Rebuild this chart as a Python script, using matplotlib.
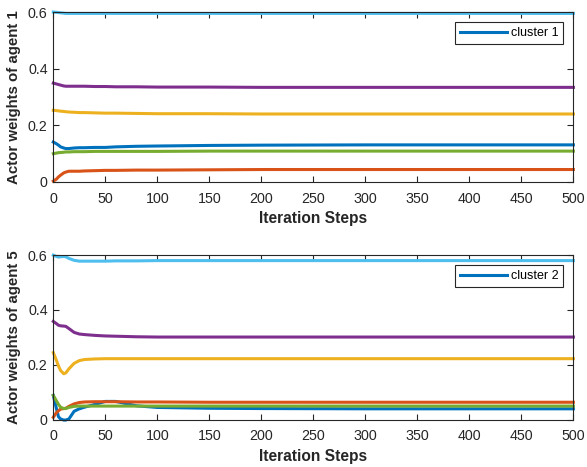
import matplotlib
matplotlib.use("Agg")
import matplotlib.pyplot as plt

# iteration points
steps = [0, 3, 5, 7, 10, 12, 15, 20, 25, 30, 40, 50, 60, 80, 100, 150, 200, 300, 400, 500]

# agent 1 (cluster 1)
a1_blue = [0.141, 0.135, 0.130, 0.124, 0.120, 0.118, 0.118, 0.120, 0.121, 0.121, 0.122, 0.122,
           0.124, 0.126, 0.127, 0.129, 0.130, 0.131, 0.131, 0.131]
a1_orange = [0.003, 0.010, 0.018, 0.024, 0.032, 0.035, 0.038, 0.038, 0.038, 0.039, 0.040, 0.041,
             0.041, 0.042, 0.042, 0.043, 0.044, 0.044, 0.044, 0.044]
a1_yellow = [0.253, 0.252, 0.251, 0.250, 0.249, 0.248, 0.247, 0.246, 0.245, 0.245, 0.244, 0.243,
             0.243, 0.242, 0.241, 0.241, 0.240, 0.240, 0.240, 0.240]
a1_purple = [0.349, 0.346, 0.344, 0.342, 0.339, 0.338, 0.338, 0.338, 0.338, 0.338, 0.337, 0.337,
             0.336, 0.336, 0.335, 0.335, 0.334, 0.334, 0.334, 0.334]
a1_green = [0.100, 0.102, 0.1035, 0.104, 0.105, 0.106, 0.106, 0.107, 0.107, 0.107, 0.108, 0.108,
            0.108, 0.108, 0.108, 0.109, 0.109, 0.109, 0.109, 0.109]
a1_cyan = [0.600, 0.599, 0.598, 0.597, 0.596, 0.595, 0.595, 0.595, 0.595, 0.595, 0.595, 0.595,
           0.595, 0.595, 0.595, 0.595, 0.595, 0.595, 0.595, 0.595]

# agent 5 (cluster 2)
a5_blue = [0.088, 0.040, 0.010, 0.002, -0.002, -0.002, 0.002, 0.030, 0.039, 0.045, 0.055, 0.066,
           0.066, 0.050, 0.044, 0.041, 0.040, 0.039, 0.039, 0.039]
a5_orange = [0.008, 0.025, 0.032, 0.038, 0.040, 0.041, 0.048, 0.057, 0.062, 0.064, 0.065, 0.065,
             0.065, 0.064, 0.064, 0.063, 0.063, 0.063, 0.063, 0.063]
a5_yellow = [0.244, 0.216, 0.195, 0.179, 0.167, 0.170, 0.185, 0.205, 0.215, 0.219, 0.221, 0.222,
             0.222, 0.222, 0.222, 0.222, 0.222, 0.222, 0.222, 0.222]
a5_purple = [0.358, 0.350, 0.344, 0.342, 0.341, 0.340, 0.332, 0.318, 0.312, 0.310, 0.307, 0.305,
             0.304, 0.302, 0.301, 0.301, 0.301, 0.301, 0.301, 0.301]
a5_green = [0.088, 0.068, 0.055, 0.045, 0.040, 0.040, 0.044, 0.048, 0.049, 0.049, 0.049, 0.049,
            0.049, 0.049, 0.049, 0.049, 0.049, 0.049, 0.049, 0.049]
a5_cyan = [0.600, 0.595, 0.593, 0.594, 0.595, 0.594, 0.588, 0.581, 0.578, 0.578, 0.578, 0.578,
           0.579, 0.579, 0.580, 0.580, 0.580, 0.580, 0.580, 0.580]

COLORS = ["#0072BD", "#D95319", "#EDB120", "#7E2F8E", "#77AC30", "#4DBEEE"]
AX_COLOR = "#262626"

plt.rcParams["font.family"] = ["Liberation Sans", "DejaVu Sans"]


def draw_panel(ax, series, ylabel, legend_label):
    for i, (vals, col) in enumerate(zip(series, COLORS)):
        ax.plot(steps, vals, color=col, lw=2.2, clip_on=False,
                label=legend_label if i == 0 else None)
    ax.set_xlim(0, 500)
    ax.set_ylim(0, 0.6)
    ax.set_xticks(range(0, 501, 50))
    ax.set_yticks([0, 0.2, 0.4, 0.6])
    ax.set_yticklabels(["0", "0.2", "0.4", "0.6"])
    ax.tick_params(direction="in", top=True, right=True, length=4,
                   width=0.8, colors=AX_COLOR, labelsize=10.3)
    ax.tick_params(axis="x", pad=7)
    ax.tick_params(axis="y", pad=4)
    for sp in ax.spines.values():
        sp.set_color(AX_COLOR)
        sp.set_linewidth(0.8)
    ax.set_xlabel("Iteration Steps", fontsize=11.2, fontweight="bold",
                  color=AX_COLOR, labelpad=4)
    ax.set_ylabel(ylabel, fontsize=10.8, fontweight="bold", color=AX_COLOR,
                  labelpad=5)
    leg = ax.legend(loc="upper right", fontsize=9, handlelength=3.8,
                    fancybox=False, framealpha=1, edgecolor=AX_COLOR,
                    borderaxespad=0.8, borderpad=0.4, handletextpad=0.3)
    leg.get_frame().set_linewidth(0.8)


fig = plt.figure(figsize=(5.87, 4.67), dpi=100)
ax1 = fig.add_axes([0.0908, 0.6103, 0.886, 0.364])
ax2 = fig.add_axes([0.0908, 0.1017, 0.886, 0.352])

draw_panel(ax1, [a1_blue, a1_orange, a1_yellow, a1_purple, a1_green, a1_cyan],
           "Actor weights of agent 1", "cluster 1")
draw_panel(ax2, [a5_blue, a5_orange, a5_yellow, a5_purple, a5_green, a5_cyan],
           "Actor weights of agent 5", "cluster 2")

fig.savefig("out.png", dpi=100)
